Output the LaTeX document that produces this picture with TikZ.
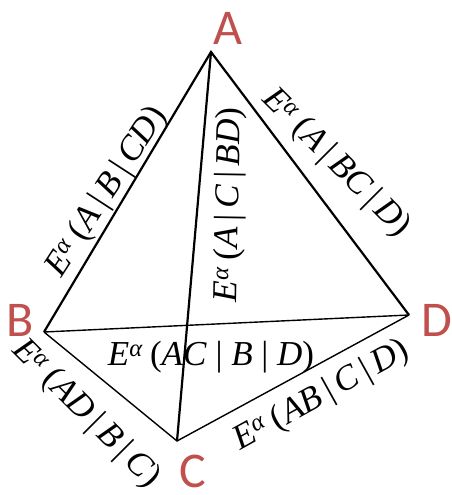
\documentclass[tikz,border=0pt]{standalone}
\usepackage{fontspec}
\setmainfont{Liberation Serif}
\newfontfamily\vertexfont{Carlito}
\usepackage{xcolor}
\definecolor{vred}{RGB}{192,80,77}
\newcommand{\Ealpha}[1]{\textit{E}\textsuperscript{\textit{α}}\hspace{0.2em}(#1)}

\begin{document}
\begin{tikzpicture}[x=1pt,y=-1pt,
    vlabel/.style={text=vred,font=\vertexfont\fontsize{50}{50}\selectfont,inner sep=0pt},
    elabel/.style={font=\fontsize{35}{35}\selectfont,inner sep=0pt},
    thickedge/.style={line width=2.2pt},
    thinedge/.style={line width=1.4pt}]
        \useasboundingbox (0,0) rectangle (451,495);

        \coordinate (A) at (211,52);
        \coordinate (B) at (44,332);
        \coordinate (C) at (177,441);
        \coordinate (D) at (409,315);

        \draw[thickedge] (B) -- (A) -- (D);
        \draw[thickedge] (A) -- (C);
        \draw[thinedge] (B) -- (D);
        \draw[thinedge] (B) -- (C) -- (D);

        \node[vlabel] (nA) at (228,28) {A};
        \node[vlabel] (nB) at (20,320) {B};
        \node[vlabel] (nC) at (193,471) {C};
        \node[vlabel] (nD) at (437,320) {D};

        \node[elabel,rotate=57] (lAB) at (107,192) {\Ealpha{\textit{A}\,|\,\textit{B}\,|\,\textit{CD}}};
        \node[elabel,rotate=89] (lAC) at (230,205) {\Ealpha{\textit{A}\,|\,\textit{C}\,|\,\textit{BD}}};
        \node[elabel,rotate=-45] (lAD) at (336,163) {\Ealpha{\textit{A}\,|\,\textit{BC}\,|\,\textit{D}}};
        \node[elabel] (lBD) at (211,357) {\Ealpha{\textit{AC} | \textit{B} | \textit{D}}};
        \node[elabel,rotate=-45] (lBC) at (86,414) {\Ealpha{\textit{AD}\,|\,\textit{B}\,|\,\textit{C}}};
        \node[elabel,rotate=29] (lCD) at (322,396) {\Ealpha{\textit{AB}\,|\,\textit{C}\,|\,\textit{D}}};
      \end{tikzpicture}
\end{document}
